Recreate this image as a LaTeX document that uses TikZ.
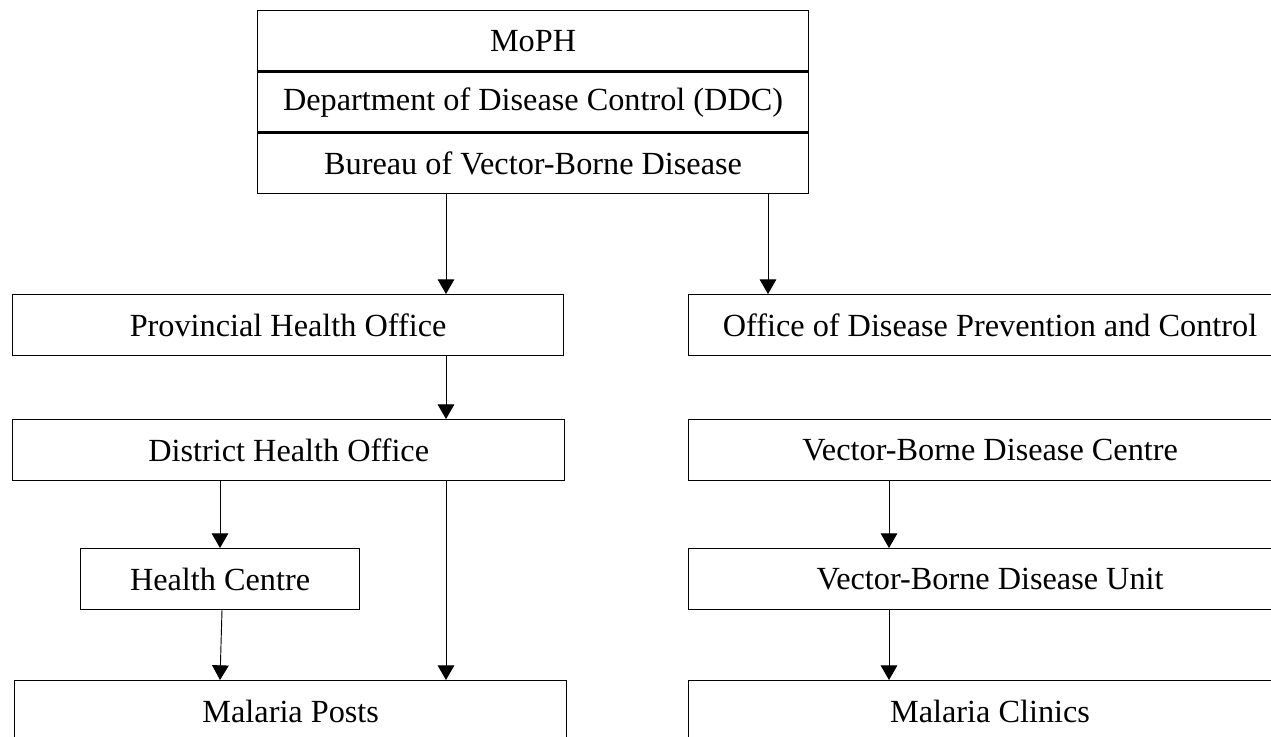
\documentclass[tikz,border=0pt]{standalone}
\usepackage{fontspec}
\setmainfont{Liberation Serif}
\usetikzlibrary{positioning,arrows.meta}

\tikzset{
	box/.style={draw, line width=1.1pt, inner sep=0pt, anchor=north west,
		minimum height=45.5pt, font=\fontsize{24.2}{29}\selectfont},
	link/.style={line width=0.7pt, -{Triangle[width=12.5pt,length=11pt]}},
}

\begin{document}
\begin{tikzpicture}[x=0.75pt, y=-0.75pt]
		\useasboundingbox (0,0) rectangle (1271,737);
		% ministry stack
		\node [box, minimum width=413pt, minimum height=45pt] (moph) at (257,10) {MoPH};
		\node [box, minimum width=413pt, minimum height=45pt, below=0pt of moph] (ddc) {Department of Disease Control (DDC)};
		\node [box, minimum width=413pt, minimum height=45pt, below=0pt of ddc] (bvbd) {Bureau of Vector-Borne Disease};
		% left branch
		\node [box, minimum width=413pt] (pho) at (12,294) {Provincial Health Office};
		\node [box, minimum width=414pt] (dho) at (12,419) {District Health Office};
		\node [box, minimum width=209pt] (hc) at (80,548) {Health Centre};
		\node [box, minimum width=414pt] (mp) at (14,680) {Malaria Posts};
		% right branch
		\node [box, minimum width=452pt] (odpc) at (688,294) {Office of Disease Prevention and Control};
		\node [box, minimum width=452pt] (vbdc) at (688,419) {Vector-Borne Disease Centre};
		\node [box, minimum width=452pt] (vbdu) at (688,548) {Vector-Borne Disease Unit};
		\node [box, minimum width=452pt] (mc) at (688,680) {Malaria Clinics};
		% columns for the arrows
		\coordinate (colA) at (220,0);
		\coordinate (colB) at (446,0);
		\coordinate (colC) at (768,0);
		\coordinate (colD) at (889,0);
		\draw [link] (bvbd.south -| colB) -- (pho.north -| colB);
		\draw [link] (bvbd.south -| colC) -- (odpc.north -| colC);
		\draw [link] (pho.south -| colB) -- (dho.north -| colB);
		\draw [link] (dho.south -| colA) -- (hc.north -| colA);
		\draw [link] ([xshift=1.5pt]hc.south -| colA) -- (mp.north -| colA);
		\draw [link] (dho.south -| colB) -- (mp.north -| colB);
		\draw [link] (vbdc.south -| colD) -- (vbdu.north -| colD);
		\draw [link] (vbdu.south -| colD) -- (mc.north -| colD);
	\end{tikzpicture}
\end{document}
